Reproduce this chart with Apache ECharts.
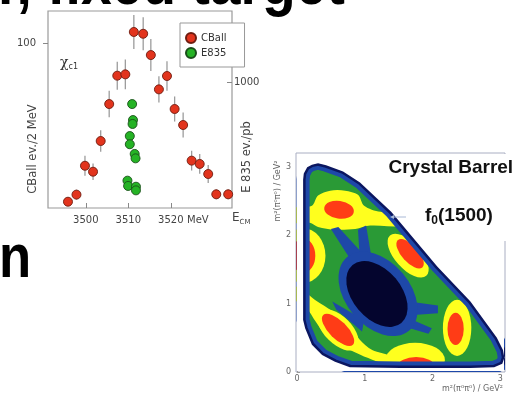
<!DOCTYPE html>
<html><head><meta charset="utf-8">
<script src="https://cdn.jsdelivr.net/npm/echarts@6/dist/echarts.min.js"></script>
<style>html,body{margin:0;padding:0;background:#fff}#c{width:517px;height:394px}</style>
</head><body><div id="c"></div>
<script>
// ---- Left plot: chi_c1 scan ----
const cballE = [3495.8,3497.8,3499.8,3501.7,3503.5,3505.5,3507.4,3509.3,3511.3,3513.5,3515.3,3517.2,3519.1,3520.9,3522.9,3524.9,3526.8,3528.8,3530.7,3533.5];
const cballN = [3.8,8.1,25.6,22.0,40.6,63.0,80.2,81.0,106.7,105.6,92.7,71.9,80.0,60.0,50.3,28.7,26.7,20.6,8.3,8.3];
const cballErr = [2.5,3,6,5,6.5,8,8.5,9,10.3,10,9.7,8,9,7.6,7.6,6,6,5.5,3,3];
const e835E = [3510.9,3511.1,3511.0,3510.35,3510.35,3511.5,3511.7,3509.8,3509.95,3511.8,3511.8];
const e835N = [825,698,667,571,506,429,394,217,175,169,140];
const xTicks = [3500,3510,3520];
const yLeftTicks = [100];
const yRightTicks = [1000];
const legendNames = ['CBall','E835'];

// ---- Right plot: Dalitz plot (GeV^2) ----
const dalitzTicks = [0,1,2,3];
const dalitzEdge = [[0.09,2.81],[0.10,2.90],[0.15,2.99],[0.22,3.03],[0.31,3.05],[0.43,3.02],[0.68,2.93],[0.93,2.77],[1.39,2.34],[2.07,1.54],[2.56,1.03],[2.95,0.50],[3.04,0.32],[3.06,0.21],[3.03,0.12],[2.91,0.07],[2.56,0.06],[1.52,0.06],[0.78,0.07],[0.56,0.15],[0.37,0.25],[0.22,0.40],[0.12,0.64],[0.09,0.76]];
const yellowBands = [
  [[-0.02,2.40],[0.22,2.43],[0.31,2.58],[0.49,2.65],[0.71,2.65],[0.90,2.59],[0.99,2.43],[1.23,2.34],[1.70,2.34],[1.70,2.14],[1.08,2.14],[0.86,2.09],[0.56,2.08],[0.31,2.12],[0.19,2.18],[-0.02,2.18]],
  [[-0.02,1.25],[0.30,1.03],[0.49,0.91],[0.72,0.73],[0.92,0.48],[1.11,0.32],[1.40,0.22],[1.40,0.10],[1.11,0.18],[0.87,0.28],[0.64,0.40],[0.43,0.53],[0.28,0.73],[0.13,0.95],[-0.02,1.05]]
];
// [cx, cy, rx, ry, angleDeg]
const yellowBlobs = [[0.09,1.70,0.33,0.40,0],[0.606,0.615,0.38,0.20,-45],[1.743,0.176,0.44,0.25,0],[2.363,0.644,0.21,0.41,0],[1.64,1.70,0.40,0.19,-48]];
const redBlobs = [[0.62,2.37,0.22,0.13,-8],[0.09,1.70,0.18,0.25,0],[0.606,0.615,0.31,0.13,-45],[1.758,0.088,0.27,0.13,0],[2.341,0.630,0.12,0.234,0],[1.669,1.727,0.27,0.12,-48]];
const starArms = [
  [[0.50,2.09],[0.61,2.12],[1.08,1.61],[0.87,1.52]],
  [[0.90,2.08],[1.02,2.14],[1.11,1.61],[0.93,1.61]],
  [[0.52,1.03],[0.58,0.91],[0.96,0.59],[0.99,0.76]],
  [[1.52,1.05],[2.08,0.97],[2.08,0.86],[1.52,0.82]],
  [[1.52,0.84],[1.99,0.64],[1.94,0.56],[1.49,0.69]]
];
const blueCore = [1.196,1.142,0.71,0.47,-50];
const darkCore = [1.18,1.14,0.56,0.355,-50];

const C = {navy:'#0b1660', blue:'#1e48a8', green:'#2a9a36', yellow:'#ffff1e', red:'#ff3c16', dark:'#04052e'};

const chart = echarts.init(document.getElementById('c'), null, {renderer:'canvas'});
const lblFont = {fontFamily:'DejaVu Sans', fontSize:10, color:'#444'};
const plain = v => String(v);

function dalitzRender(params, api) {
  const P = p => api.coord(p);
  const o = api.coord([0,0]);
  const ux = Math.abs(api.coord([1,0])[0] - o[0]);
  const uy = Math.abs(api.coord([0,1])[1] - o[1]);
  const poly = (pts, fill, smooth) => ({type:'polygon', shape:{points: pts.map(P), smooth: smooth||0}, style:{fill: fill}});
  const ell = (e, fill) => { const c = P([e[0],e[1]]); return {type:'circle', x:c[0], y:c[1], rotation:e[4]*Math.PI/180, scaleX:e[2]*ux, scaleY:e[3]*uy, shape:{cx:0,cy:0,r:1}, style:{fill: fill}}; };
  const children = [];
  children.push(poly(dalitzEdge, C.green));
  yellowBands.forEach(b => children.push(poly(b, C.yellow, 0.3)));
  yellowBlobs.forEach(b => children.push(ell(b, C.yellow)));
  redBlobs.forEach(b => children.push(ell(b, C.red)));
  starArms.forEach(a => children.push(poly(a, C.blue)));
  children.push(ell(blueCore, C.blue));
  children.push(ell(darkCore, C.dark));
  const edgePx = dalitzEdge.map(P);
  children.push({type:'polygon', shape:{points: edgePx}, style:{fill:'none', stroke:C.blue, lineWidth:13, lineJoin:'round'}});
  children.push({type:'polygon', shape:{points: edgePx}, style:{fill:'none', stroke:C.navy, lineWidth:5, lineJoin:'round'}});
  // white mask outside the edge (keyhole polygon)
  const cs = params.coordSys;
  const rect = [[cs.x+1,cs.y+1],[cs.x+cs.width-1,cs.y+1],[cs.x+cs.width-1,cs.y+cs.height-1],[cs.x+1,cs.y+cs.height-1]];
  const area = pts => { let s=0; for (let i=0;i<pts.length;i++){const a=pts[i], b=pts[(i+1)%pts.length]; s+=a[0]*b[1]-b[0]*a[1];} return s; };
  let ep = edgePx.slice();
  if (Math.sign(area(ep)) === Math.sign(area(rect))) ep.reverse();
  const mask = rect.concat([rect[0]]).concat(ep).concat([ep[0]]);
  children.push({type:'polygon', shape:{points: mask}, style:{fill:'#ffffff'}});
  return {type:'group', children: children};
}

const option = {
  animation:false,
  backgroundColor:'#ffffff',
  grid:[
    {left:48, top:11, right:285, bottom:186, show:true, borderColor:'#9a9a9a', borderWidth:1.2, backgroundColor:'transparent'},
    {left:296, top:153, right:12, bottom:22, show:true, borderColor:'#a9aec2', borderWidth:1, backgroundColor:'transparent'}
  ],
  xAxis:[
    {gridIndex:0, type:'value', min:3491.1, max:3534.4, axisLine:{show:false}, splitLine:{show:false},
     axisTick:{show:true, inside:true, length:5, customValues:xTicks, lineStyle:{color:'#888'}},
     axisLabel:Object.assign({customValues:xTicks, margin:7, formatter:plain}, lblFont)},
    {gridIndex:1, type:'value', min:-0.015, max:3.07, axisLine:{show:false}, splitLine:{show:false},
     axisTick:{show:true, inside:true, length:3, customValues:dalitzTicks, lineStyle:{color:'#999'}},
     axisLabel:{customValues:dalitzTicks, margin:3, fontSize:8, color:'#666', fontFamily:'DejaVu Sans', formatter:plain}}
  ],
  yAxis:[
    {gridIndex:0, type:'value', min:0, max:119.4, position:'left', axisLine:{show:false}, splitLine:{show:false},
     axisTick:{show:true, length:5, customValues:yLeftTicks, lineStyle:{color:'#888'}},
     axisLabel:Object.assign({customValues:yLeftTicks, margin:12, formatter:plain}, lblFont)},
    {gridIndex:0, type:'value', min:0, max:1563.5, position:'right', axisLine:{show:false}, splitLine:{show:false},
     axisTick:{show:true, inside:true, length:5, customValues:yRightTicks, lineStyle:{color:'#888'}},
     axisLabel:Object.assign({customValues:yRightTicks, margin:2, formatter:plain}, lblFont)},
    {gridIndex:1, type:'value', min:0, max:3.2, axisLine:{show:false}, splitLine:{show:false},
     axisTick:{show:true, inside:true, length:3, customValues:dalitzTicks, lineStyle:{color:'#999'}},
     axisLabel:{customValues:dalitzTicks, margin:5, fontSize:8, color:'#666', fontFamily:'DejaVu Sans', formatter:plain}}
  ],
  legend:{data:legendNames, orient:'vertical', left:180, top:23, padding:[9,18,8,5], itemGap:3, itemWidth:10, itemHeight:10,
    icon:'circle', backgroundColor:'#fff', borderColor:'#999', borderWidth:1, borderRadius:0, itemTextGap:6,
    textStyle:{fontFamily:'DejaVu Sans', fontSize:10, color:'#333'}},
  series:[
    {type:'custom', name:'cballErr', xAxisIndex:0, yAxisIndex:0, silent:true, z:1,
     data: cballE.map((e,i)=>[e, cballN[i], cballErr[i]]),
     renderItem:(params, api)=>{ const x=api.value(0), y=api.value(1), er=api.value(2);
       const a=api.coord([x,y-er]), b=api.coord([x,y+er]);
       return {type:'line', shape:{x1:a[0],y1:a[1],x2:b[0],y2:b[1]}, style:{stroke:'#9c9c9c', lineWidth:1.3}}; }},
    {type:'scatter', name:'CBall', xAxisIndex:0, yAxisIndex:0, z:3, symbolSize:9,
     data: cballE.map((e,i)=>[e, cballN[i]]),
     itemStyle:{color:'#e2341d', borderColor:'#6e1c10', borderWidth:0.9, opacity:1}},
    {type:'scatter', name:'E835', xAxisIndex:0, yAxisIndex:1, z:3, symbolSize:9,
     data: e835E.map((e,i)=>[e, e835N[i]]),
     itemStyle:{color:'#25b325', borderColor:'#1a4f1a', borderWidth:0.9, opacity:1}},
    {type:'custom', name:'dalitz', xAxisIndex:1, yAxisIndex:2, silent:true, z:2, clip:true, data:[[0,0]], renderItem: dalitzRender}
  ],
  graphic:[
    {type:'text', x:-2, y:-14, scaleX:0.85, z:10, style:{text:'r, fixed target', font:'bold 65px "Liberation Sans"', fill:'#000', verticalAlign:'middle'}},
    {type:'text', x:-1, y:260, scaleX:0.85, z:10, style:{text:'n', font:'bold 62px "Liberation Sans"', fill:'#000', verticalAlign:'middle'}},
    {type:'text', x:33, y:149, rotation:Math.PI/2, z:10, style:{text:'CBall ev./2 MeV', font:'11.5px "DejaVu Sans"', fill:'#444', align:'center', verticalAlign:'middle'}},
    {type:'text', x:247, y:157, rotation:Math.PI/2, z:10, style:{text:'E 835 ev./pb', font:'11.5px "DejaVu Sans"', fill:'#444', align:'center', verticalAlign:'middle'}},
    {type:'text', x:60, y:63, z:10, style:{text:'{a|χ}{b|c1}', verticalAlign:'middle', rich:{a:{fontFamily:'DejaVu Serif', fontSize:14, fill:'#333'}, b:{fontFamily:'DejaVu Sans', fontSize:8, fill:'#333', padding:[8,0,0,0]}}}},
    {type:'text', x:187, y:220, z:10, style:{text:'MeV', font:'10px "DejaVu Sans"', fill:'#444', verticalAlign:'middle'}},
    {type:'text', x:232, y:218, z:10, style:{text:'{a|E}{b|CM}', verticalAlign:'middle', rich:{a:{fontFamily:'DejaVu Sans', fontSize:12, fill:'#444'}, b:{fontFamily:'DejaVu Sans', fontSize:7, fill:'#444', padding:[8,0,0,0]}}}},
    {type:'rect', shape:{x:502, y:154, width:6, height:87}, z:5, style:{fill:'#fff'}},
    {type:'text', x:388.5, y:168, z:10, style:{text:'Crystal Barrel', font:'bold 19px "Liberation Sans"', fill:'#111', verticalAlign:'middle'}},
    {type:'text', x:425, y:216, z:10, style:{text:'{a|f}{b|0}{a|(1500)}', verticalAlign:'middle', rich:{a:{fontFamily:'Liberation Sans', fontWeight:'bold', fontSize:19, fill:'#111'}, b:{fontFamily:'Liberation Sans', fontWeight:'bold', fontSize:12, fill:'#111', padding:[10,0,0,0]}}}},
    {type:'line', z:10, shape:{x1:392, y1:217, x2:406, y2:217}, style:{stroke:'#a9b9d6', lineWidth:1}},
    {type:'polygon', z:10, shape:{points:[[390,217],[394,215],[394,219]]}, style:{fill:'#a9b9d6'}},
    {type:'text', x:278, y:191, rotation:Math.PI/2, z:10, style:{text:'m²(π⁰π⁰) / GeV²', font:'8px "DejaVu Sans"', fill:'#666', align:'center', verticalAlign:'middle'}},
    {type:'text', x:442, y:389, z:10, style:{text:'m²(π⁰π⁰) / GeV²', font:'8px "DejaVu Sans"', fill:'#666', verticalAlign:'middle'}}
  ]
};
chart.setOption(option);
</script>
</body></html>
